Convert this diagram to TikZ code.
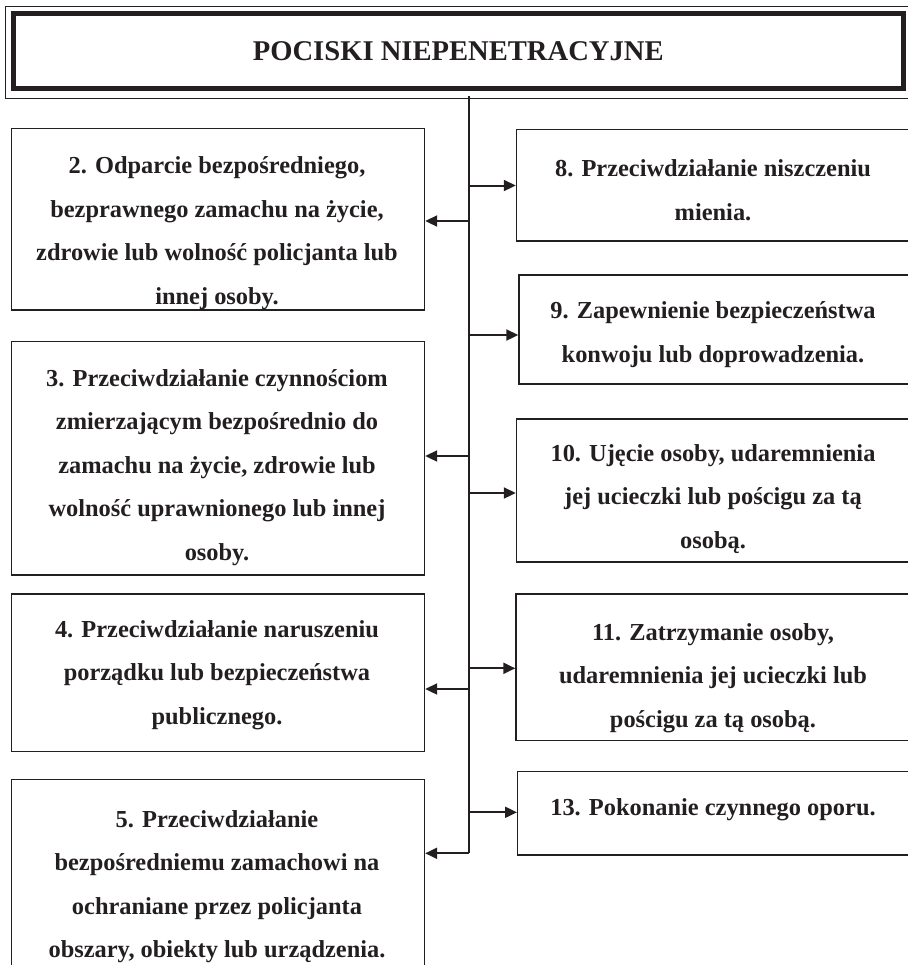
\documentclass[tikz,border=0pt]{standalone}
\usepackage{fontspec}
\setmainfont{Liberation Serif}
\usetikzlibrary{arrows.meta}
\definecolor{ink}{HTML}{231F20}

\begin{document}
\begin{tikzpicture}[x=0.5pt, y=-0.5pt,
	box/.style={draw=ink, line width=0.7pt, inner sep=0pt},
	lbox/.style={box, minimum width=206.4pt},
	txt/.style={align=center, text=ink, inner sep=0pt,
		font=\fontsize{12.2}{21.75}\selectfont\bfseries,
		execute at begin node=\strut, execute at end node=\strut},
	arr/.style={draw=ink, line width=1pt, -{Triangle[length=6pt, width=5.5pt]}}]
	 \useasboundingbox (0, 0) rectangle (907, 965);

	 % title
	 \node[box, line width=2.5pt, minimum width=445.25pt, minimum height=37.25pt,
	 	text=ink, font=\fontsize{14.3}{17}\selectfont\bfseries] (title) at (458.25, 50.75) {POCISKI NIEPENETRACYJNE};
	 \draw[ink, line width=0.5pt] ([xshift=-2.75pt, yshift=2.5pt]title.north west) rectangle ([xshift=3.25pt, yshift=-3.9pt]title.south east);

	 % left boxes
	 \node[lbox, minimum height=90.85pt] (b2) at (218.1, 219.15) {};
	 \node[lbox, minimum height=116.65pt] (b3) at (218.1, 458.35) {};
	 \node[lbox, minimum height=78.85pt] (b4) at (218.1, 672.85) {};
	 \node[lbox, minimum height=102.85pt] (b5) at (218.1, 882.15) {};

	 % right boxes
	 \node[box, minimum width=196.75pt, minimum height=55.85pt] (b8) at (713.25, 185.15) {};
	 \node[box, minimum width=195.5pt, minimum height=54.5pt] (b9) at (714.5, 329.5) {};
	 \node[box, minimum width=196.75pt, minimum height=71.5pt] (b10) at (713.25, 490.5) {};
	 \node[box, minimum width=197pt, minimum height=73.35pt] (b11) at (713, 667.35) {};
	 \node[box, minimum width=196.15pt, minimum height=41.85pt] (b13) at (713.85, 813.15) {};

	 \node[txt] (t2) at (217, 237) {2. Odparcie bezpośredniego,\\ bezprawnego zamachu na życie,\\ zdrowie lub wolność policjanta lub\\ innej osoby.};
	 \node[txt] (t3) at (217, 471.3) {3. Przeciwdziałanie czynnościom\\ zmierzającym bezpośrednio do\\ zamachu na życie, zdrowie lub\\ wolność uprawnionego lub innej\\ osoby.};
	 \node[txt] (t4) at (217, 678.8) {4. Przeciwdziałanie naruszeniu\\ porządku lub bezpieczeństwa\\ publicznego.};
	 \node[txt] (t5) at (217, 890.3) {5. Przeciwdziałanie\\ bezpośredniemu zamachowi na\\ ochraniane przez policjanta\\ obszary, obiekty lub urządzenia.};
	 \node[txt] (t8) at (713, 196.8) {8. Przeciwdziałanie niszczeniu\\ mienia.};
	 \node[txt] (t9) at (713, 338.3) {9. Zapewnienie bezpieczeństwa\\ konwoju lub doprowadzenia.};
	 \node[txt] (t10) at (713, 502.8) {10. Ujęcie osoby, udaremnienia\\ jej ucieczki lub pościgu za tą\\ osobą.};
	 \node[txt] (t11) at (713, 681.8) {11. Zatrzymanie osoby,\\ udaremnienia jej ucieczki lub\\ pościgu za tą osobą.};
	 \node[txt] (t13) at (713, 807) {13. Pokonanie czynnego oporu.};

	 % trunk and arrows
	 \coordinate (trunktop) at (469, 95.8);
	 \coordinate (trunkbot) at (469, 853.3);
	 \draw[ink, line width=0.6pt] (trunktop) -- (trunkbot);
	 \foreach \n/\y in {8/185.5, 9/335, 10/493, 11/668.3, 13/812.3}
	 \draw[arr] (trunktop |- 0, \y) -- (b\n.west |- 0, \y);
	 \foreach \n/\y in {2/221, 3/456, 4/689, 5/853.3}
	 \draw[arr] (trunktop |- 0, \y) -- (b\n.east |- 0, \y);
\end{tikzpicture}
\end{document}
